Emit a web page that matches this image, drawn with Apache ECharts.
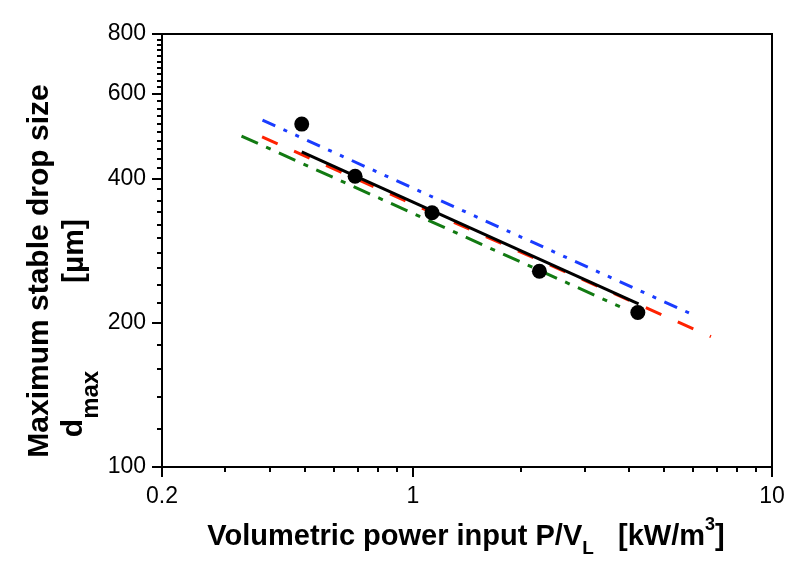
<!DOCTYPE html>
<html><head><meta charset="utf-8">
<script src="https://cdn.jsdelivr.net/npm/echarts@6/dist/echarts.min.js"></script>
<style>html,body{margin:0;padding:0;background:#fff}#c{width:801px;height:566px}</style>
</head><body><div id="c"></div>
<script>
// Experimental points (P/V_L [kW/m3], d_max [µm])
const expX = [0.49, 0.69, 1.13, 2.25, 4.23];
const expY = [519, 404, 339, 256, 210];
// Correlation lines (two end points each, straight in log-log)
const blackX = [0.49, 4.25];  const blackY = [454, 219];
const redX   = [0.38, 6.76];  const redY   = [488, 187];
const blueX  = [0.381, 6.18]; const blueY  = [529, 206];
const greenX = [0.333, 3.77]; const greenY = [490, 216];
// Axis ticks
const xMajor = [0.2, 1, 10];
const xMinor = [0.3,0.4,0.5,0.6,0.7,0.8,0.9,2,3,4,5,6,7,8,9];
const yMajor = [100, 200, 400, 600, 800];
const yMinor = [120,140,160,180,220,240,260,280,300,320,340,360,380,420,440,460,480,500,520,540,560,580,620,640,660,680,700,720,740,760,780];

const pairs = (xs, ys) => xs.map((x, i) => [x, ys[i]]);
const FONT = 'Liberation Sans, Arial, sans-serif';

const chart = echarts.init(document.getElementById('c'), null, {renderer: 'canvas'});
const axBase = {type: 'log', logBase: 10, splitLine: {show: false}};
chart.setOption({
  animation: false,
  backgroundColor: '#ffffff',
  grid: {left: 162, right: 29, top: 34, bottom: 99, show: true, borderColor: '#000', borderWidth: 2, backgroundColor: 'transparent'},
  xAxis: [
    Object.assign({}, axBase, {min: 0.2, max: 10, position: 'bottom',
      axisLine: {show: true, lineStyle: {color: '#000', width: 2}},
      axisTick: {show: true, inside: false, length: 10, lineStyle: {color: '#000', width: 2}, customValues: xMajor},
      axisLabel: {show: true, customValues: xMajor, margin: 18, color: '#000', fontSize: 23, fontFamily: FONT, formatter: v => String(+v.toPrecision(3))}
    }),
    Object.assign({}, axBase, {min: 0.2, max: 10, position: 'bottom',
      axisLine: {show: false},
      axisTick: {show: true, inside: false, length: 5, lineStyle: {color: '#000', width: 2}, customValues: xMinor},
      axisLabel: {show: false}
    })
  ],
  yAxis: [
    Object.assign({}, axBase, {min: 100, max: 800, position: 'left',
      axisLine: {show: true, lineStyle: {color: '#000', width: 2}},
      axisTick: {show: true, inside: false, length: 10, lineStyle: {color: '#000', width: 2}, customValues: yMajor},
      axisLabel: {show: true, customValues: yMajor, margin: 16, color: '#000', fontSize: 23, fontFamily: FONT, formatter: v => String(Math.round(v))}
    }),
    Object.assign({}, axBase, {min: 100, max: 800, position: 'left',
      axisLine: {show: false},
      axisTick: {show: true, inside: false, length: 5, lineStyle: {color: '#000', width: 2}, customValues: yMinor},
      axisLabel: {show: false}
    })
  ],
  graphic: [
    {
      type: 'text', x: 466, y: 537,
      style: {
        text: 'Volumetric power input P/V{sub|L}   [kW/m{sup|3}]',
        align: 'center', verticalAlign: 'middle',
        fill: '#000', font: 'bold 29px ' + FONT, lineHeight: 42,
        rich: {
          sub: {fontSize: 19, fontWeight: 'bold', fontFamily: FONT, verticalAlign: 'bottom', lineHeight: 42, fill: '#000'},
          sup: {fontSize: 18, fontWeight: 'bold', fontFamily: FONT, verticalAlign: 'top', lineHeight: 42, fill: '#000'}
        }
      }
    },
    {
      type: 'text', x: 40, y: 271, rotation: Math.PI / 2,
      style: {text: 'Maximum stable drop size', align: 'center', verticalAlign: 'middle', fill: '#000', font: 'bold 30px ' + FONT}
    },
    {
      type: 'text', x: 74, y: 404, rotation: Math.PI / 2,
      style: {
        text: 'd{sub|max}', align: 'center', verticalAlign: 'middle', fill: '#000', font: 'bold 30px ' + FONT, lineHeight: 58,
        rich: {sub: {fontSize: 24, fontWeight: 'bold', fontFamily: FONT, verticalAlign: 'bottom', lineHeight: 58, fill: '#000'}}
      }
    },
    {
      type: 'text', x: 75, y: 251, rotation: Math.PI / 2,
      style: {text: '[µm]', align: 'center', verticalAlign: 'middle', fill: '#000', font: 'bold 30px ' + FONT}
    }
  ],
  series: [
    {type: 'line', name: 'green', data: pairs(greenX, greenY), symbol: 'none', lineStyle: {color: '#127a12', width: 3, type: [18, 9, 5, 9]}, z: 2},
    {type: 'line', name: 'blue', data: pairs(blueX, blueY), symbol: 'none', lineStyle: {color: '#1a3cff', width: 3, type: [14, 9, 4, 9, 4, 9]}, z: 2},
    {type: 'line', name: 'red', data: pairs(redX, redY), symbol: 'none', lineStyle: {color: '#ff2200', width: 3, type: [17, 18]}, z: 3},
    {type: 'line', name: 'black', data: pairs(blackX, blackY), symbol: 'none', lineStyle: {color: '#000', width: 3, type: 'solid'}, z: 4},
    {type: 'scatter', name: 'exp', data: pairs(expX, expY), symbol: 'circle', symbolSize: 15, itemStyle: {color: '#000', opacity: 1}, z: 5}
  ]
});
</script></body></html>
